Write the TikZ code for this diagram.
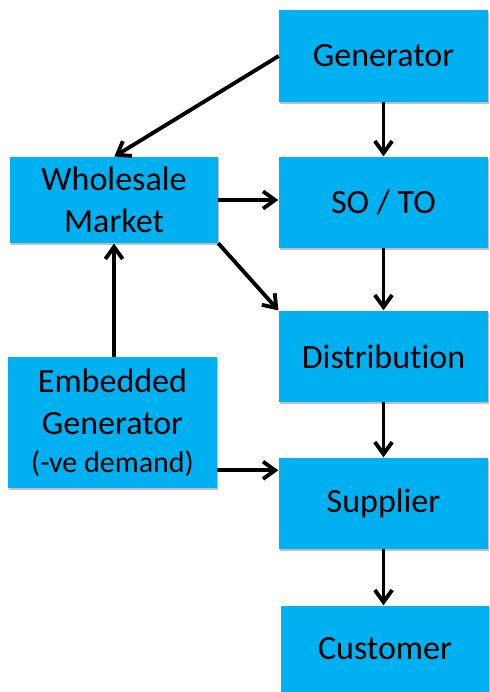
\documentclass[tikz,border=0pt]{standalone}
\usepackage{fontspec}
\setmainfont{Carlito}[Ligatures=NoCommon]
\usetikzlibrary{arrows.meta,shadows,positioning}
\definecolor{boxblue}{HTML}{00B0F0}
\begin{document}
\begin{tikzpicture}[x=0.75pt,y=-0.75pt,
  box/.style={fill=boxblue, draw=none, rectangle, inner sep=0pt,
    minimum width=156.75pt, minimum height=#1, align=center,
    font=\fontsize{25.5}{31.5}\selectfont,
    drop shadow={shadow xshift=0.8pt, shadow yshift=-1.6pt, opacity=0.25, fill=black}},
  box/.default=68.25pt,
  conn/.style={line width=2.9pt, -{Straight Barb[length=9pt, width=13pt, line width=2.9pt]}, shorten >=0.3pt}
]
\useasboundingbox (0,0) rectangle (489,692);
\node[box] (gen) at (383.5,56) {Generator};
\node[box] (so) at (383.5,202.5) {SO / TO};
\node[box] (dist) at (383.5,356.5) {Distribution};
\node[box] (sup) at (383.5,503.5) {Supplier};
\node[box=64.5pt, minimum width=156pt] (cust) at (385,649) {Customer};
\node[box=64.5pt, minimum width=156pt] (whole) at (114,200) {Wholesale\\Market};
\node[box=98.25pt] (emb) at (112.5,422.5) {Embedded\\Generator\\[-3pt]{\fontsize{22.5}{26}\selectfont(-ve demand)}};

\draw[conn] (gen.south) -- (so.north);
\draw[conn] (gen.west) -- (whole.north);
\draw[conn] (whole.east) -- (whole.east -| so.west);
\draw[conn] (whole.south east) -- (dist.north west);
\draw[conn] (emb.north -| whole.south) -- (whole.south);
\draw[conn] ([yshift=13.5pt]emb.south east) -- ([yshift=13.5pt]emb.south east -| sup.west);
\draw[conn] (so.south) -- (dist.north);
\draw[conn] (dist.south) -- (sup.north);
\draw[conn] (sup.south) -- (sup.south |- cust.north);
\end{tikzpicture}
\end{document}
